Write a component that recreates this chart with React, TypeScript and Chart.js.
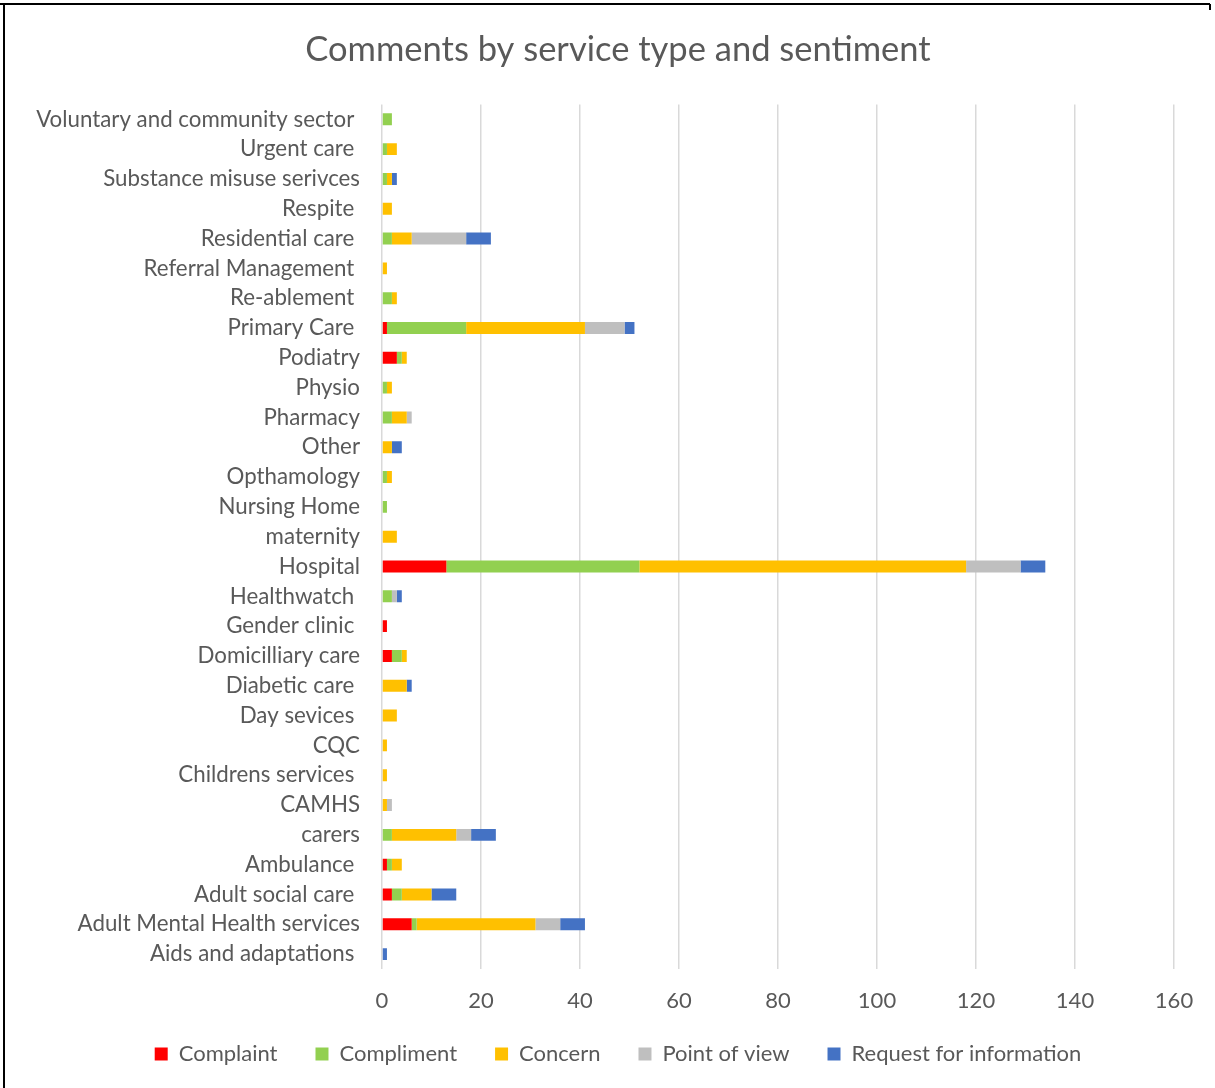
import React, { useEffect, useRef } from "react";
import { Chart, registerables } from "chart.js";
Chart.register(...registerables);

const categories = [
  "Voluntary and community sector ",
  "Urgent care ",
  "Substance misuse serivces",
  "Respite ",
  "Residential care ",
  "Referral Management ",
  "Re-ablement ",
  "Primary Care ",
  "Podiatry",
  "Physio",
  "Pharmacy",
  "Other",
  "Opthamology",
  "Nursing Home",
  "maternity",
  "Hospital",
  "Healthwatch ",
  "Gender clinic ",
  "Domicilliary care",
  "Diabetic care ",
  "Day sevices ",
  "CQC",
  "Childrens services ",
  "CAMHS",
  "carers",
  "Ambulance ",
  "Adult social care ",
  "Adult Mental Health services",
  "Aids and adaptations ",
];

const complaint = [0, 0, 0, 0, 0, 0, 0, 1, 3, 0, 0, 0, 0, 0, 0, 13, 0, 1, 2, 0, 0, 0, 0, 0, 0, 1, 2, 6, 0];
const compliment = [2, 1, 1, 0, 2, 0, 2, 16, 1, 1, 2, 0, 1, 1, 0, 39, 2, 0, 2, 0, 0, 0, 0, 0, 2, 1, 2, 1, 0];
const concern = [0, 2, 1, 2, 4, 1, 1, 24, 1, 1, 3, 2, 1, 0, 3, 66, 0, 0, 1, 5, 3, 1, 1, 1, 13, 2, 6, 24, 0];
const pointOfView = [0, 0, 0, 0, 11, 0, 0, 8, 0, 0, 1, 0, 0, 0, 0, 11, 1, 0, 0, 0, 0, 0, 0, 1, 3, 0, 0, 5, 0];
const requestInfo = [0, 0, 1, 0, 5, 0, 0, 2, 0, 0, 0, 2, 0, 0, 0, 5, 1, 0, 0, 1, 0, 0, 0, 0, 5, 0, 5, 5, 1];

const seriesNames = ["Complaint", "Compliment", "Concern", "Point of view", "Request for information"];
const seriesColors = ["#FF0000", "#92D050", "#FFC000", "#BFBFBF", "#4472C4"];

const FONT = "Lato, 'Open Sans', sans-serif";
const TEXT = "#595959";

const framePlugin = {
  id: "frame",
  afterLayout(chart: any) {
    // let the x tick labels extend below the axis box without being clipped
    const x = chart.scales.x;
    if (x) x.bottom = x.top + 60;
  },
  afterDraw(chart: any) {
    const ctx = chart.ctx;
    ctx.save();
    ctx.strokeStyle = "#000";
    ctx.lineWidth = 2;
    ctx.beginPath();
    ctx.moveTo(0, 4);
    ctx.lineTo(1210, 4);
    ctx.moveTo(4, 4);
    ctx.lineTo(4, 1088);
    ctx.moveTo(1210, 4);
    ctx.lineTo(1210, 10);
    ctx.stroke();
    ctx.restore();
  },
};

export default function App() {
  const ref = useRef<HTMLCanvasElement>(null);
  useEffect(() => {
    document.body.style.margin = "0";
    const data = [complaint, compliment, concern, pointOfView, requestInfo];
    const chart = new Chart(ref.current!, {
      type: "bar",
      data: {
        labels: categories,
        datasets: seriesNames.map((name, i) => ({
          label: name,
          data: data[i],
          backgroundColor: seriesColors[i],
          borderWidth: 0,
          barPercentage: 0.4,
          categoryPercentage: 1,
        })),
      },
      options: {
        indexAxis: "y",
        responsive: false,
        animation: false,
        devicePixelRatio: 1,
        layout: { padding: { left: 21, right: 0, top: 0, bottom: 13 } },
        plugins: {
          title: {
            display: true,
            text: "Comments by service type and sentiment",
            color: TEXT,
            font: { family: FONT, size: 34.5, weight: "normal" },
            padding: { top: 29, bottom: 34 },
          },
          legend: {
            position: "bottom",
            labels: {
              boxWidth: 13,
              boxHeight: 13,
              padding: 38,
              color: TEXT,
              font: { family: FONT, size: 22 },
            },
          },
          tooltip: { enabled: false },
        },
        scales: {
          x: {
            stacked: true,
            min: 0,
            max: 160,
            ticks: { stepSize: 20, color: TEXT, font: { family: FONT, size: 22 }, padding: 19 },
            grid: { color: "#d9d9d9", lineWidth: 1.5, drawTicks: false },
            border: { display: false },
            afterFit: (s: any) => {
              s.height = 36;
            },
          },
          y: {
            stacked: true,
            grid: { display: false, drawTicks: false },
            border: { display: false },
            ticks: { autoSkip: false, color: TEXT, font: { family: FONT, size: 22.3 }, padding: 22 },
            afterFit: (s: any) => {
              s.width = 361;
            },
          },
          yRight: {
            type: "category",
            position: "right",
            display: true,
            grid: { display: false, drawTicks: false },
            border: { display: false },
            ticks: { display: false },
            afterFit: (s: any) => {
              s.width = 41;
            },
          },
        },
      } as any,
      plugins: [framePlugin],
    });
    return () => chart.destroy();
  }, []);
  return <canvas ref={ref} width={1215} height={1088} style={{ display: "block" }} />;
}
